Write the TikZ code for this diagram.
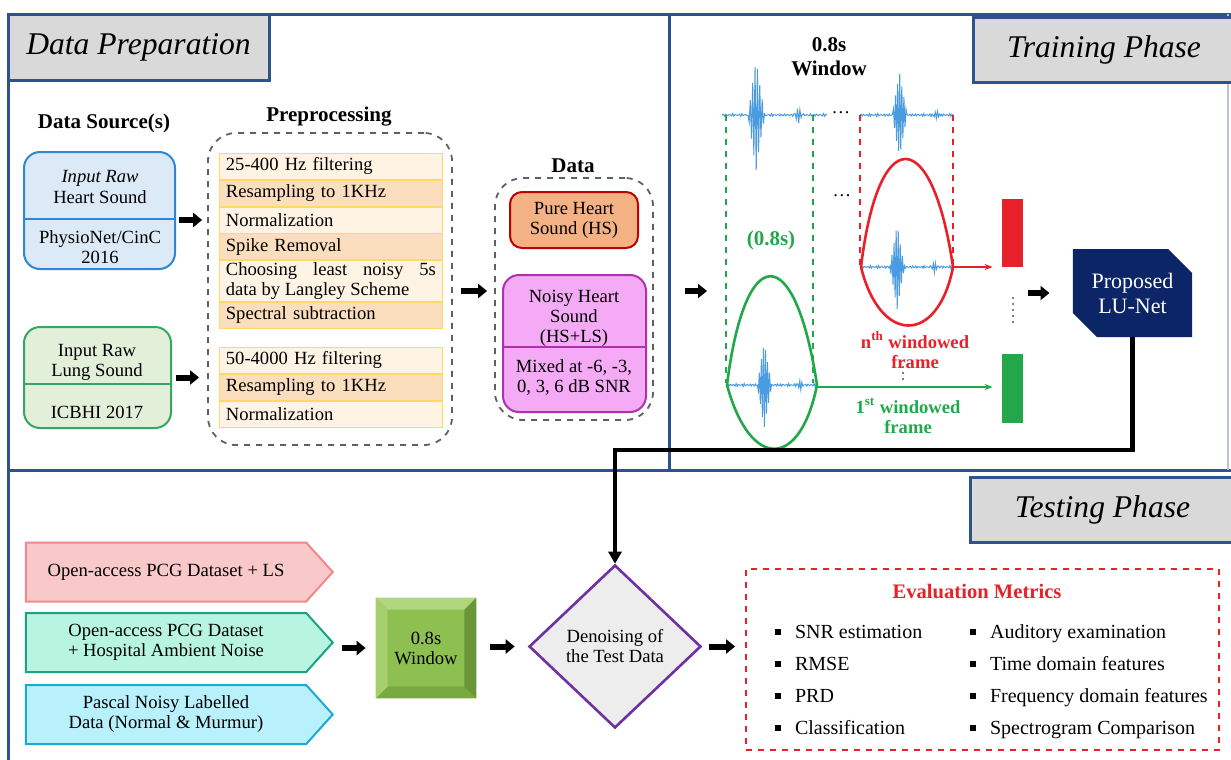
\documentclass[tikz,border=0pt]{standalone}
\usepackage{fontspec}
\setmainfont{Liberation Serif}
\usetikzlibrary{arrows.meta,positioning,shapes.geometric,shapes.misc,shapes.symbols}

\definecolor{panelblue}{RGB}{47,82,143}
\definecolor{titlegray}{RGB}{217,217,217}
\definecolor{heartfill}{RGB}{220,233,247}
\definecolor{heartline}{RGB}{46,134,214}
\definecolor{lungfill}{RGB}{226,240,217}
\definecolor{lungline}{RGB}{52,168,98}
\definecolor{rowlight}{RGB}{255,244,228}
\definecolor{rowdark}{RGB}{251,222,190}
\definecolor{rowline}{RGB}{255,217,102}
\definecolor{purefill}{RGB}{244,177,131}
\definecolor{pureline}{RGB}{192,0,0}
\definecolor{noisyfill}{RGB}{245,170,245}
\definecolor{noisyline}{RGB}{176,48,176}
\definecolor{wavecol}{RGB}{74,155,224}
\definecolor{wingreen}{RGB}{34,168,74}
\definecolor{winred}{RGB}{232,32,42}
\definecolor{netnavy}{RGB}{12,37,102}
\definecolor{pinkfill}{RGB}{249,201,201}
\definecolor{pinkline}{RGB}{240,138,138}
\definecolor{tealfill}{RGB}{184,245,224}
\definecolor{tealline}{RGB}{25,163,131}
\definecolor{cyanfill}{RGB}{184,240,252}
\definecolor{cyanline}{RGB}{26,170,212}
\definecolor{bevelface}{RGB}{141,192,80}
\definecolor{beveltop}{RGB}{178,214,126}
\definecolor{bevelleft}{RGB}{166,207,110}
\definecolor{bevelright}{RGB}{107,150,56}
\definecolor{bevelbottom}{RGB}{121,170,64}
\definecolor{diafill}{RGB}{237,237,237}
\definecolor{diapurple}{RGB}{112,48,160}

\newcommand{\heartwave}[5]{%
  \draw[wave] plot[domain=0:89,samples=90]
    ({#1+#3*\x/89},{#2-(0.9*sin(\x*131)+0.6*sin(\x*173)
      +#4*max(0,1-abs(\x-#5)/7)*cos(\x*179)
      +0.3*#4*max(0,1-abs(\x-#5-36)/4)*cos(\x*179))});}
\newcommand{\sqbul}{\rule[2pt]{3pt}{3pt}\hspace{7pt}}

\begin{document}
\begin{tikzpicture}[
    x=0.5pt, y=-0.5pt,
    every node/.style={font=\fontsize{9.3}{10}\selectfont},
    panel/.style={draw=panelblue, line width=1.5pt},
    titlebox/.style={draw=panelblue, line width=1.5pt, fill=titlegray,
      font=\fontsize{15.8}{18}\selectfont\itshape},
    head/.style={font=\fontsize{10.5}{12}\selectfont\bfseries, align=center},
    srcbox/.style={draw, rounded corners=8pt, line width=1pt},
    rowl/.style={draw=rowline, fill=rowlight, minimum width=111.5pt, text width=105pt,
      inner xsep=3.25pt, minimum height=13pt, inner ysep=1pt, align=left},
    rowd/.style={rowl, fill=rowdark},
    group/.style={draw=gray!75!black, dashed, line width=0.9pt, rounded corners=14pt},
    bigarrow/.style={-{Triangle[length=4.5pt,width=7pt]}, line width=3pt},
    wave/.style={wavecol, line width=0.5pt},
    guide/.style={dashed, line width=0.8pt},
    lens/.style={line width=1.3pt},
    thin arrow/.style={-{Stealth[length=4pt]}, line width=0.8pt},
    framelbl/.style={font=\fontsize{9.3}{10}\selectfont\bfseries, align=center},
    feed/.style={signal, signal to=east, signal pointer angle=96, minimum width=153.5pt,
      minimum height=29.5pt, line width=1pt, align=center},
    metric/.style={anchor=west, text height=7pt, text depth=2.5pt, font=\fontsize{10}{12}\selectfont}
  ]
    \useasboundingbox (0,0) rectangle (1231,760);

    \draw[panel] (8,760) -- (8,14) -- (1231,14);
    \draw[panel] (669,14) -- (669,470);
    \draw[panel] (8,470) -- (1231,470);
    \draw[panelblue!35, line width=0.6pt] (1228,14) -- (1228,470);

    \node[titlebox, minimum width=130.5pt, minimum height=33pt] (prepTitle) at (138.5,47) {Data Preparation};
    \node[titlebox, minimum width=131pt, minimum height=32.5pt] (trainTitle) at (1104,49.5) {Training Phase};
    \node[titlebox, minimum width=132.5pt, minimum height=32.5pt] (testTitle) at (1102.5,509.5) {Testing Phase};

    \node[head] (srcT) at (104,123) {Data Source(s)};
    \node[srcbox, draw=heartline, fill=heartfill, minimum width=75.5pt, minimum height=58.5pt] (heart) at (99.5,210.5) {};
    \draw[heartline, line width=1pt] (heart.west |- 0,219) -- (heart.east |- 0,219);
    \node[align=center] (heartA) at (100,187) {\textit{Input Raw}\\Heart Sound};
    \node[align=center] (heartB) at (100,247) {PhysioNet/CinC\\2016};

    \node[srcbox, draw=lungline, fill=lungfill, minimum width=73.5pt, minimum height=50.5pt] (lung) at (97.5,377.5) {};
    \draw[lungline, line width=1pt] (lung.west |- 0,384) -- (lung.east |- 0,384);
    \node[align=center] (lungA) at (97,362) {Input Raw\\Lung Sound};
    \node (lungB) at (97,412) {ICBHI 2017};

    \node[head] (prepT) at (329,117) {Preprocessing};
    \node[group, minimum width=122pt, minimum height=156pt] (prep) at (330,289) {};
    \node[rowl, anchor=north west] (r1) at (219,153) {25-400 Hz filtering};
    \node[rowd, below=0pt of r1] (r2) {Resampling to 1KHz};
    \node[rowl, below=0pt of r2] (r3) {Normalization};
    \node[rowd, below=0pt of r3] (r4) {Spike Removal};
    \node[rowl, below=0pt of r4, align=justify] (r5) {Choosing least noisy 5s\linebreak data by Langley Scheme};
    \node[rowd, below=0pt of r5] (r6) {Spectral subtraction};
    \node[rowl, anchor=north west] (s1) at (219,347) {50-4000 Hz filtering};
    \node[rowd, below=0pt of s1] (s2) {Resampling to 1KHz};
    \node[rowl, below=0pt of s2] (s3) {Normalization};

    \node[head] (dataT) at (573,166) {Data};
    \node[group, minimum width=79pt, minimum height=121pt] (data) at (574,299) {};
    \node[draw=pureline, fill=purefill, line width=1pt, rounded corners=6pt, align=center,
      minimum width=64pt, minimum height=28pt] (pure) at (574,220) {Pure Heart\\Sound (HS)};
    \node[draw=noisyline, fill=noisyfill, line width=1pt, rounded corners=8pt,
      minimum width=71.5pt, minimum height=68.5pt] (noisy) at (574.5,343.5) {};
    \draw[noisyline, line width=1pt] (noisy.west |- 0,347) -- (noisy.east |- 0,347);
    \node[align=center] (noisyA) at (574,318) {Noisy Heart\\Sound\\(HS+LS)};
    \node[align=center] (noisyB) at (574,377) {Mixed at -6, -3,\\0, 3, 6 dB SNR};

    \draw[bigarrow, shorten <=1.5pt, shorten >=2.5pt] (heart.east |- 0,220) -- (prep.west |- 0,220);
    \draw[bigarrow, shorten <=2pt, shorten >=4pt] (lung.east) -- (lung.east -| prep.west);
    \draw[bigarrow, shorten <=4pt, shorten >=3.5pt] (prep.east |- 0,291) -- (data.west |- 0,291);

    \node[head, font=\fontsize{10.5}{12}\selectfont\bfseries] (winT) at (829,57) {0.8s\\Window};
    \heartwave{722}{115}{105}{62}{29}
    \heartwave{860}{115}{93}{52}{38}
    \node (dotsA) at (841,113) {\dots};
    \node (dotsB) at (842,196) {\dots};
    \draw[guide, wingreen] (726,115) -- (726,383);
    \draw[guide, wingreen] (813,115) -- (813,383);
    \draw[guide, winred] (860,115) -- (860,267);
    \draw[guide, winred] (953,115) -- (953,267);
    \node[head, text=wingreen] (durT) at (771,240) {(0.8s)};

    \heartwave{861}{267}{92}{50}{35}
    \draw[lens, winred] (861,267) .. controls (878,123) and (932,123) .. (953,267)
      .. controls (938,345) and (880,345) .. (861,267);
    \heartwave{727}{385}{90}{52}{37}
    \draw[lens, wingreen] (727,385) .. controls (745,240) and (795,240) .. (817,385)
      .. controls (800,470) and (750,470) .. (727,385);
    \coordinate (redR) at (953,267);
    \coordinate (greenR) at (817,387);

    \node[fill=winred, minimum width=10.5pt, minimum height=34pt, inner sep=0pt] (nfr) at (1012.5,233) {};
    \node[fill=wingreen, minimum width=10.5pt, minimum height=34.5pt, inner sep=0pt] (ffr) at (1012.5,388.5) {};
    \draw[thin arrow, winred, shorten >=4.5pt] (redR) -- (redR -| nfr.west);
    \draw[thin arrow, wingreen, shorten >=4.5pt] (greenR) -- (greenR -| ffr.west);
    \draw[dotted, line width=1pt, gray] (nfr.south |- 0,297) -- (nfr.south |- 0,325);
    \draw[dotted, line width=1pt, gray] (903,366) -- (903,381);
    \node[framelbl, text=winred] (nthT) at (915,350) {n\textsuperscript{th} windowed\\frame};
    \node[framelbl, text=wingreen] (firstT) at (908,416) {1\textsuperscript{st} windowed\\frame};

    \node[chamfered rectangle, chamfered rectangle corners={north east,south west},
      chamfered rectangle xsep=6pt, chamfered rectangle ysep=6pt, fill=netnavy, text=white,
      minimum width=56.5pt, minimum height=44pt, align=center,
      font=\fontsize{11}{12.5}\selectfont] (lunet) at (1132.5,293) {Proposed\\LU-Net};
    \coordinate (trainIn) at (707,291);
    \draw[bigarrow, shorten <=15.5pt] (data.east |- trainIn) -- (trainIn);
    \draw[bigarrow, shorten <=2.5pt, shorten >=11.5pt] (ffr.east |- lunet.west) -- (lunet.west);

    \coordinate (bend) at (615,450);
    \node[diamond, draw=diapurple, fill=diafill, line width=1.3pt, minimum width=86pt,
      minimum height=81.5pt, inner sep=0pt, align=center] (denoise) at (615,646.5) {Denoising of\\the Test Data};
    \draw[line width=2.2pt, -{Triangle[length=6pt,width=6.5pt]}] (lunet.south) |- (bend) -- (denoise.north);

    \node[feed, fill=pinkfill, draw=pinkline] (pcgls) at (166,572) {Open-access PCG Dataset + LS};
    \node[feed, fill=tealfill, draw=tealline] (pcgamb) at (166,642.5) {Open-access PCG Dataset\\+ Hospital Ambient Noise};
    \node[feed, fill=cyanfill, draw=cyanline] (pascal) at (166,714.5) {Pascal Noisy Labelled\\Data (Normal \& Murmur)};

    \node[fill=bevelface, minimum width=50pt, minimum height=50pt, align=center] (win) at (426,648) {0.8s\\Window};
    \fill[beveltop] (win.north west) -- (win.north east) -- ([shift={(-12,12)}]win.north east)
      -- ([shift={(12,12)}]win.north west) -- cycle;
    \fill[bevelbottom] (win.south west) -- (win.south east) -- ([shift={(-12,-12)}]win.south east)
      -- ([shift={(12,-12)}]win.south west) -- cycle;
    \fill[bevelleft] (win.north west) -- ([shift={(12,12)}]win.north west)
      -- ([shift={(12,-12)}]win.south west) -- (win.south west) -- cycle;
    \fill[bevelright] (win.north east) -- ([shift={(-12,12)}]win.north east)
      -- ([shift={(-12,-12)}]win.south east) -- (win.south east) -- cycle;

    \node[draw=winred, dashed, line width=0.9pt, minimum width=236.5pt, minimum height=90.5pt] (eval) at (982.5,659.5) {};
    \node[font=\fontsize{10.3}{12}\selectfont\bfseries, text=winred] (evalT) at (977,591) {Evaluation Metrics};
    \node[metric] (m1) at (768,634) {\sqbul SNR estimation};
    \node[metric] (m2) at (768,666) {\sqbul RMSE};
    \node[metric] (m3) at (768,698) {\sqbul PRD};
    \node[metric] (m4) at (768,730) {\sqbul Classification};
    \node[metric] (m5) at (963,634) {\sqbul Auditory examination};
    \node[metric] (m6) at (963,666) {\sqbul Time domain features};
    \node[metric] (m7) at (963,698) {\sqbul Frequency domain features};
    \node[metric] (m8) at (963,730) {\sqbul Spectrogram Comparison};

    \draw[bigarrow, shorten <=4pt, shorten >=5pt] (pcgamb.east |- win.west) -- (win.west);
    \draw[bigarrow, shorten <=7pt, shorten >=6.5pt] (win.east |- denoise.west) -- (denoise.west);
    \draw[bigarrow, shorten <=3.5pt, shorten >=5pt] (denoise.east) -- (denoise.east -| eval.west);
  \end{tikzpicture}
\end{document}
